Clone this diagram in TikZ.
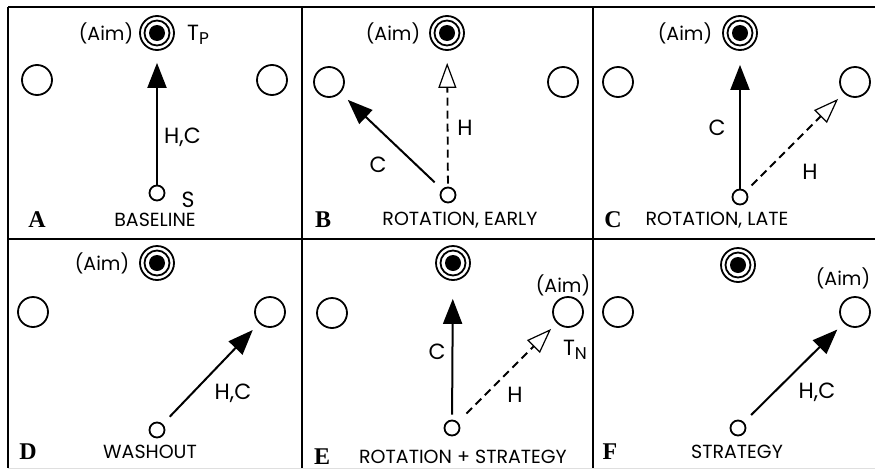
\documentclass[tikz,border=0pt]{standalone}
\usepackage{fontspec}
\setmainfont{Poppins}
\newfontfamily\panelfont{Liberation Serif}
\usetikzlibrary{arrows.meta}
\tikzset{
  frame/.style={line width=2.5pt},
  tgt/.style={circle, draw, line width=1.8pt, minimum size=34pt, inner sep=0pt,
    path picture={\draw[line width=1.8pt] (path picture bounding box.center) circle (12.5pt);
                  \fill (path picture bounding box.center) circle (8pt);}},
  opt/.style={circle, draw, line width=1.8pt, minimum size=30pt, inner sep=0pt},
  startpt/.style={circle, draw, line width=1.8pt, minimum size=15pt, inner sep=0pt},
  solidarrow/.style={line width=2pt, -{Triangle[length=25pt,width=19pt]}},
  openarrow/.style={line width=1.8pt, dash pattern=on 8pt off 5pt,
    -{Triangle[open,length=25pt,width=18pt,fill=white,line width=1.2pt]}},
  lab/.style={inner sep=0pt, font=\fontsize{22}{22}\selectfont},
  aim/.style={inner sep=0pt, font=\fontsize{19}{19}\selectfont},
  captext/.style={inner sep=0pt, font=\fontsize{19}{19}\selectfont},
  letter/.style={inner sep=0pt, font=\fontsize{24}{24}\selectfont\panelfont\bfseries},
}
\begin{document}
\begin{tikzpicture}[x=1pt,y=-1pt]
\useasboundingbox (0,0) rectangle (875,469);
% frames
\draw[frame] (8,7) -- (875,7);
\draw[frame] (8,239) -- (875,239);
\draw[frame] (8,7) -- (8,468);
\draw[frame] (302,7) -- (302,468);
\draw[frame] (593,7) -- (593,468);
\draw[gray!25, line width=1pt] (8,468) -- (875,468);

% ---- Panel A
\node[tgt] (tA) at (157,33) {};
\node[opt] (lA) at (37,80) {};
\node[opt] (rA) at (272,80) {};
\node[startpt] (sA) at (157,193) {};
\draw[solidarrow, shorten >=12pt] (sA) -- (tA);
\node[aim] (aimA) at (106,33) {(Aim)};
\node[lab] (tpA) at (198,35) {T\raisebox{-4pt}{\fontsize{17}{17}\selectfont P}};
\node[lab, anchor=west] (hcA) at (164,137) {H,C};
\node[lab] (sLab) at (188,200) {S};
\node[letter] (letA) at (37,220) {A};
\node[captext] (capA) at (155,220) {BASELINE};

% ---- Panel B
\node[tgt] (tB) at (447,33) {};
\node[opt] (lB) at (329,82) {};
\node[opt] (rB) at (563,82) {};
\node[startpt] (sB) at (448,195) {};
\draw[solidarrow, shorten <=10pt, shorten >=10pt] (sB) -- (lB);
\draw[openarrow, shorten <=3pt, shorten >=12pt] (sB) -- (tB);
\node[aim] (aimB) at (393,33) {(Aim)};
\node[lab] (hB) at (465,128) {H};
\node[lab] (cB) at (378,165) {C};
\node[letter] (letB) at (323,220) {B};
\node[captext] (capB) at (460,220) {ROTATION, EARLY};

% ---- Panel C
\node[tgt] (tC) at (740,33) {};
\node[opt] (lC) at (618,82) {};
\node[opt] (rC) at (855,82) {};
\node[startpt] (sC) at (740,197) {};
\draw[solidarrow, shorten >=14pt] (sC) -- (tC);
\draw[openarrow, shorten <=8pt, shorten >=8pt] (sC) -- (rC);
\node[aim] (aimC) at (685,33) {(Aim)};
\node[lab] (cC) at (717,128) {C};
\node[lab] (hC) at (810,172) {H};
\node[letter] (letC) at (613,220) {C};
\node[captext] (capC) at (717,220) {ROTATION, LATE};

% ---- Panel D
\node[tgt] (tD) at (157,263) {};
\node[opt] (lD) at (33,312) {};
\node[opt] (rD) at (270,312) {};
\node[startpt] (sD) at (157,430) {};
\draw[solidarrow, shorten <=10pt, shorten >=9pt] (sD) -- (rD);
\node[aim] (aimD) at (102,263) {(Aim)};
\node[lab] (hcD) at (233,393) {H,C};
\node[letter] (letD) at (28,452) {D};
\node[captext] (capD) at (150,452) {WASHOUT};

% ---- Panel E
\node[tgt] (tE) at (453,263) {};
\node[opt] (lE) at (332,313) {};
\node[opt] (rE) at (568,312) {};
\node[startpt] (sE) at (452,428) {};
\draw[solidarrow, shorten <=5pt, shorten >=18pt] (sE) -- (tE);
\draw[openarrow, shorten <=12pt, shorten >=8pt] (sE) -- (rE);
\node[aim] (aimE) at (563,285) {(Aim)};
\node[lab] (cE) at (437,352) {C};
\node[lab] (hE) at (515,395) {H};
\node[lab] (tnE) at (575,350) {T\raisebox{-4pt}{\fontsize{17}{17}\selectfont N}};
\node[letter] (letE) at (322,457) {E};
\node[captext] (capE) at (463,457) {ROTATION + STRATEGY};

% ---- Panel F
\node[tgt] (tF) at (738,265) {};
\node[opt] (lF) at (618,312) {};
\node[opt] (rF) at (855,312) {};
\node[startpt] (sF) at (738,428) {};
\draw[solidarrow, shorten <=10pt, shorten >=9pt] (sF) -- (rF);
\node[aim] (aimF) at (843,278) {(Aim)};
\node[lab] (hcF) at (817,392) {H,C};
\node[letter] (letF) at (610,452) {F};
\node[captext] (capF) at (737,452) {STRATEGY};
\end{tikzpicture}
\end{document}
